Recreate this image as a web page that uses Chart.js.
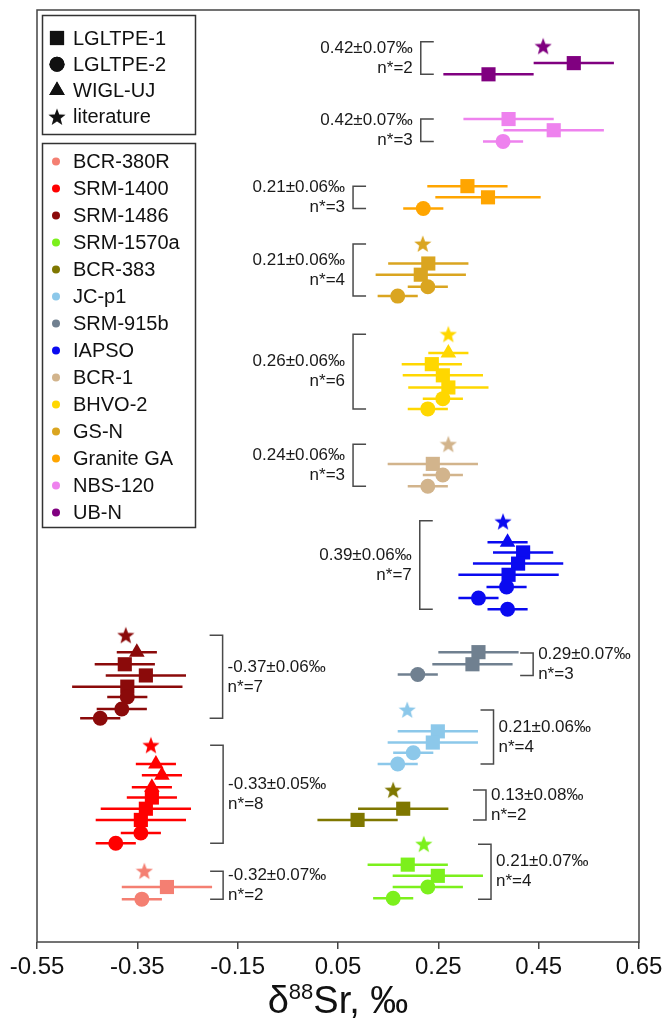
<!DOCTYPE html>
<html>
<head>
<meta charset="utf-8">
<script src="https://cdn.jsdelivr.net/npm/chart.js@4.4.1/dist/chart.umd.min.js"></script>
<style>
  html, body { margin: 0; padding: 0; background: #fff; }
  canvas { display: block; }
</style>
</head>
<body>
<canvas id="srChart" width="669" height="1027"></canvas>
<script>
const FONT = "'Liberation Sans', Arial, sans-serif"

const labs = ['LGLTPE-1', 'LGLTPE-2', 'WIGL-UJ', 'literature']
const materials = ['BCR-380R', 'SRM-1400', 'SRM-1486', 'SRM-1570a', 'BCR-383', 'JC-p1', 'SRM-915b',
    'IAPSO', 'BCR-1', 'BHVO-2', 'GS-N', 'Granite GA', 'NBS-120', 'UB-N']
const materialColors = ['#f47f72', '#ff0000', '#8b0a0a', '#7cf01c', '#7f7700', '#8cc8ea', '#708090',
    '#0a0af0', '#d2b48c', '#ffd700', '#daa520', '#ffa500', '#ee82ee', '#800080']

// each result: [δ88Sr ‰, 2SD, row position (0 = top of plot), lab index]
const bcr380r = [[-0.336, 0, 92.4, 3], [-0.291, 0.09, 94.1, 0], [-0.341, 0.04, 95.4, 1]]
const srm1400 = [[-0.323, 0, 78.9, 3], [-0.313, 0.04, 80.9, 2], [-0.301, 0.04, 82.1, 2], [-0.321, 0.04, 83.4, 2],
    [-0.321, 0.05, 84.5, 0], [-0.333, 0.09, 85.7, 0], [-0.343, 0.09, 86.9, 0], [-0.343, 0.04, 88.3, 1], [-0.393, 0.04, 89.4, 1]]
const srm1486 = [[-0.373, 0, 67.1, 3], [-0.351, 0.04, 68.9, 2], [-0.375, 0.06, 70.2, 0], [-0.333, 0.08, 71.4, 0],
    [-0.370, 0.11, 72.6, 0], [-0.370, 0.04, 73.7, 1], [-0.381, 0.05, 75.0, 1], [-0.424, 0.04, 76.0, 1]]
const srm1570a = [[0.221, 0, 89.5, 3], [0.189, 0.08, 91.7, 0], [0.249, 0.09, 92.9, 0], [0.229, 0.07, 94.1, 1], [0.160, 0.04, 95.3, 1]]
const bcr383 = [[0.160, 0, 83.7, 3], [0.180, 0.09, 85.7, 0], [0.089, 0.08, 86.9, 0]]
const jcp1 = [[0.188, 0, 75.1, 3], [0.249, 0.08, 77.4, 0], [0.239, 0.09, 78.6, 0], [0.200, 0.04, 79.7, 1], [0.169, 0.04, 80.9, 1]]
const srm915b = [[0.330, 0.08, 68.9, 0], [0.318, 0.08, 70.2, 0], [0.209, 0.04, 71.3, 1]]
const iapso = [[0.379, 0, 54.9, 3], [0.388, 0.04, 57.1, 2], [0.419, 0.06, 58.2, 0], [0.409, 0.09, 59.4, 0],
    [0.390, 0.10, 60.6, 0], [0.386, 0.04, 61.9, 1], [0.330, 0.04, 63.1, 1], [0.388, 0.04, 64.3, 1]]
const bcr1 = [[0.270, 0, 46.6, 3], [0.239, 0.09, 48.7, 0], [0.259, 0.04, 49.9, 1], [0.229, 0.04, 51.1, 1]]
const bhvo2 = [[0.270, 0, 34.8, 3], [0.270, 0.04, 36.8, 2], [0.237, 0.06, 38.0, 0], [0.259, 0.08, 39.2, 0],
    [0.270, 0.08, 40.5, 0], [0.259, 0.04, 41.7, 1], [0.229, 0.04, 42.8, 1]]
const gsn = [[0.219, 0, 25.1, 3], [0.230, 0.08, 27.2, 0], [0.215, 0.09, 28.4, 0], [0.229, 0.04, 29.7, 1], [0.169, 0.04, 30.7, 1]]
const graniteGA = [[0.308, 0.08, 18.9, 0], [0.349, 0.105, 20.1, 0], [0.220, 0.04, 21.3, 1]]
const nbs120 = [[0.390, 0.09, 11.7, 0], [0.480, 0.10, 12.9, 0], [0.379, 0.04, 14.1, 1]]
const ubn = [[0.459, 0, 3.9, 3], [0.520, 0.08, 5.7, 0], [0.350, 0.09, 6.9, 0]]

const results = [bcr380r, srm1400, srm1486, srm1570a, bcr383, jcp1, srm915b, iapso, bcr1, bhvo2, gsn, graniteGA, nbs120, ubn]

// group means (n* = number of results used)
const groupMean = [-0.32, -0.33, -0.37, 0.21, 0.13, 0.21, 0.29, 0.39, 0.24, 0.26, 0.21, 0.21, 0.42, 0.42]
const groupSD = [0.07, 0.05, 0.06, 0.07, 0.08, 0.06, 0.07, 0.06, 0.06, 0.06, 0.06, 0.06, 0.07, 0.07]
const groupN = [2, 8, 7, 4, 2, 4, 3, 7, 3, 6, 4, 3, 3, 2]

// bracket for each group: δ88Sr position, first / last row, side where the text sits
const bracketX = [-0.179, -0.179, -0.180, 0.355, 0.345, 0.360, 0.439, 0.213, 0.080, 0.080, 0.080, 0.080, 0.215, 0.215]
const bracketFrom = [92.4, 78.9, 67.1, 89.5, 83.7, 75.1, 69.0, 54.8, 46.6, 34.8, 25.1, 18.9, 11.7, 3.4]
const bracketTo = [95.4, 89.4, 76.0, 95.4, 86.9, 80.9, 71.4, 64.3, 51.1, 42.8, 30.7, 21.3, 14.1, 6.9]
const textSide = ['right', 'right', 'right', 'right', 'right', 'right', 'right', 'left', 'left', 'left', 'left', 'left', 'left', 'left']

const xTicks = [-0.55, -0.35, -0.15, 0.05, 0.25, 0.45, 0.65]


const makeStar = (color, size) => {
    const c = document.createElement('canvas')
    c.width = c.height = size
    const g = c.getContext('2d')
    const R = size / 2, r = R * 0.42
    g.beginPath()
    for (let i = 0; i < 10; i++) {
        const rad = i % 2 ? r : R
        const a = -Math.PI / 2 + i * Math.PI / 5
        g.lineTo(R + rad * Math.cos(a), R + 0.6 + rad * Math.sin(a))
    }
    g.closePath()
    g.fillStyle = color
    g.fill()
    return c
}

const labShape = ['rect', 'circle', 'triangle']
const labRadius = [10, 7.5, 9, 8]
const stars = materialColors.map(c => makeStar(c, 18))


const errorBars = {
    id: 'errorBars',
    beforeDatasetsDraw(chart) {
        const { ctx, scales: { x, y } } = chart
        ctx.save()
        ctx.lineWidth = 2.5
        chart.data.datasets.forEach(ds => {
            ctx.strokeStyle = ds.borderColor
            ds.data.forEach(p => {
                if (!p.e) return
                const py = y.getPixelForValue(p.y)
                ctx.beginPath()
                ctx.moveTo(x.getPixelForValue(p.x - p.e), py)
                ctx.lineTo(x.getPixelForValue(p.x + p.e), py)
                ctx.stroke()
            })
        })
        ctx.restore()
    }
}

const brackets = {
    id: 'brackets',
    afterDatasetsDraw(chart) {
        const { ctx, scales: { x, y } } = chart
        ctx.save()
        ctx.strokeStyle = '#4a4a4a'
        ctx.lineWidth = 1.5
        ctx.fillStyle = '#1a1a1a'
        ctx.font = `17px ${FONT}`
        ctx.textBaseline = 'middle'
        materials.forEach((m, i) => {
            const bx = x.getPixelForValue(bracketX[i])
            const top = y.getPixelForValue(bracketFrom[i])
            const bottom = y.getPixelForValue(bracketTo[i])
            const tick = textSide[i] === 'right' ? -13 : 13
            ctx.beginPath()
            ctx.moveTo(bx + tick, top)
            ctx.lineTo(bx, top)
            ctx.lineTo(bx, bottom)
            ctx.lineTo(bx + tick, bottom)
            ctx.stroke()

            const mid = (top + bottom) / 2
            const lines = [`${groupMean[i].toFixed(2)}±${groupSD[i].toFixed(2)}‰`, `n*=${groupN[i]}`]
            if (textSide[i] === 'right') {
                ctx.textAlign = 'left'
                lines.forEach((t, k) => ctx.fillText(t, bx + 5, mid - 10 + k * 20))
            } else {
                ctx.textAlign = 'right'
                lines.forEach((t, k) => ctx.fillText(t, bx - 8, mid - 10 + k * 20))
            }
        })
        ctx.restore()
    }
}

const drawMarker = (ctx, shape, cx, cy, color) => {
    ctx.fillStyle = color
    if (shape === 'star') {
        ctx.drawImage(makeStar(color, 18), cx - 9, cy - 9)
        return
    }
    Chart.helpers.drawPoint(ctx, { pointStyle: shape, radius: labRadius[labShape.indexOf(shape)], borderWidth: 0 }, cx, cy)
    ctx.fill()
}

const frameAndLegend = {
    id: 'frameAndLegend',
    afterDraw(chart) {
        const { ctx, chartArea: a } = chart
        ctx.save()
        ctx.strokeStyle = '#444'
        ctx.lineWidth = 1.5
        ctx.strokeRect(a.left, a.top, a.right - a.left, a.bottom - a.top)

        // legend boxes
        ctx.strokeStyle = '#333'
        ctx.strokeRect(42.5, 15.5, 153, 119)
        ctx.strokeRect(42.5, 143.5, 153, 384)
        ctx.font = `20px ${FONT}`
        ctx.textBaseline = 'middle'
        ctx.textAlign = 'left'
        labs.forEach((lab, i) => {
            const cy = 38 + i * 26.3
            drawMarker(ctx, i === 3 ? 'star' : labShape[i], 57, cy, '#111')
            ctx.fillStyle = '#111'
            ctx.fillText(lab, 73, cy + 1)
        })
        materials.forEach((m, i) => {
            const cy = 161.5 + i * 27
            ctx.fillStyle = materialColors[i]
            ctx.beginPath()
            ctx.arc(56, cy, 4, 0, Math.PI * 2)
            ctx.fill()
            ctx.fillStyle = '#111'
            ctx.fillText(m, 73, cy + 1)
        })

        // axis title δ88Sr, ‰
        const cx = (a.left + a.right) / 2
        const base = 1013
        const big = `38px ${FONT}`, small = `22px ${FONT}`
        ctx.textBaseline = 'alphabetic'
        ctx.font = big
        const w1 = ctx.measureText('δ').width, w3 = ctx.measureText('Sr, ‰').width
        ctx.font = small
        const w2 = ctx.measureText('88').width
        let sx = cx - (w1 + w2 + w3) / 2
        ctx.fillStyle = '#111'
        ctx.font = big
        ctx.fillText('δ', sx, base)
        ctx.font = small
        ctx.fillText('88', sx + w1, base - 14)
        ctx.font = big
        ctx.fillText('Sr, ‰', sx + w1 + w2, base)
        ctx.restore()
    }
}


const renderChart = () => {

    const datasets = materials.map((name, i) => ({
        label: name,
        data: results[i].map(([x, e, y, lab]) => ({ x, y, e, lab })),
        backgroundColor: materialColors[i],
        borderColor: materialColors[i],
        pointStyle: ctx => ctx.raw ? (ctx.raw.lab === 3 ? stars[i] : labShape[ctx.raw.lab]) : 'circle',
        pointRadius: ctx => ctx.raw ? labRadius[ctx.raw.lab] : 3,
        pointBorderWidth: 0,
        showLine: false
    }))

    const options = {
        responsive: false,
        animation: false,
        events: [],
        layout: { padding: { top: 8, left: 37, right: 30, bottom: 0 } },
        plugins: {
            legend: { display: false },
            tooltip: { enabled: false }
        },
        scales: {
            x: {
                type: 'linear',
                min: -0.55,
                max: 0.65,
                afterBuildTicks: s => { s.ticks = xTicks.map(v => ({ value: v })) },
                afterFit: s => { s.height = 85 },
                ticks: {
                    color: '#111',
                    font: { family: FONT, size: 24 },
                    padding: 4,
                    maxRotation: 0,
                    callback: v => v.toFixed(2)
                },
                grid: { drawOnChartArea: false, drawTicks: true, tickLength: 7, color: '#444', lineWidth: 1.5 },
                border: { display: false }
            },
            y: {
                type: 'linear',
                display: false,
                min: 0,
                max: 100,
                reverse: true
            }
        }
    }

    new Chart('srChart', { type: 'scatter', data: { datasets }, options, plugins: [errorBars, brackets, frameAndLegend] })
}

renderChart()
</script>
</body>
</html>
